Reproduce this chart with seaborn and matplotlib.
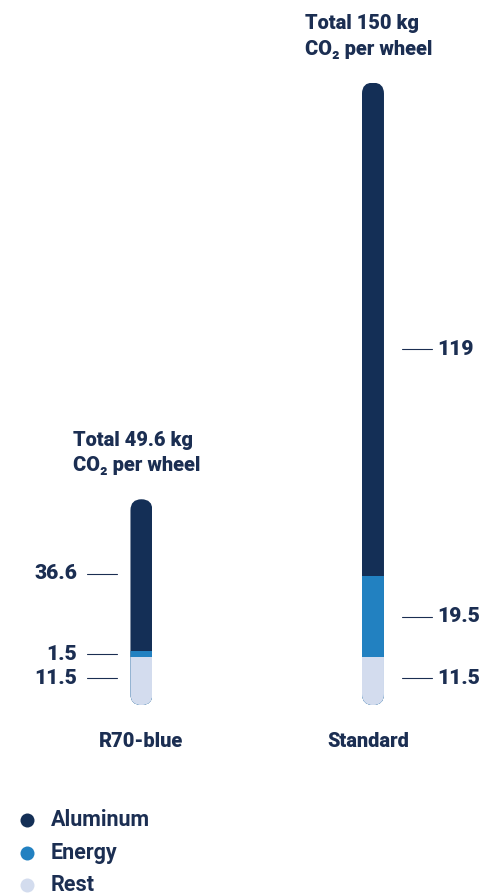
import matplotlib
matplotlib.use("Agg")
import matplotlib.pyplot as plt
from matplotlib.patches import FancyBboxPatch, BoxStyle
from matplotlib.transforms import IdentityTransform, blended_transform_factory
import pandas as pd
import seaborn as sns

# --- data -------------------------------------------------------------
products = ["R70-blue", "Standard"]
segments = ["Aluminum", "Energy", "Rest"]
rest = [11.5, 11.5]
energy = [1.5, 19.5]
aluminum = [36.6, 119]
total_labels = ["49.6", "150"]

# --- style ------------------------------------------------------------
colors = {"Aluminum": "#142f56", "Energy": "#2281c1", "Rest": "#d3dcee"}
text_color = "#1b2e52"

sns.set_theme(style="white")
plt.rcParams["font.family"] = ["Roboto", "DejaVu Sans"]

W, H, DPI = 484, 896, 72
fig = plt.figure(figsize=(W / DPI, H / DPI), dpi=DPI)
fig.patch.set_facecolor("white")
ax = fig.add_axes([0, 0, 1, 1])

df = pd.DataFrame({"product": products, "rest": rest,
                   "energy": energy, "aluminum": aluminum})
df["low"] = df["rest"]
df["mid"] = df["rest"] + df["energy"]
df["top"] = df["mid"] + df["aluminum"]

# stacked bars drawn as overlapping cumulative bars
bar_w = 0.095
for col, seg in [("top", "Aluminum"), ("mid", "Energy"), ("low", "Rest")]:
    sns.barplot(data=df, x="product", y=col, color=colors[seg], width=bar_w,
                saturation=1, linewidth=0, errorbar=None, ax=ax)

ax.set_xlim(-0.611, 1.4795)
ax.set_ylim(-46.0, 169.9)
ax.axis("off")

# rounded ends: clip each bar's segments to a pill shape
for i, total in enumerate(df["top"]):
    (x0, y0) = ax.transData.transform((i - bar_w / 2, 0))
    (x1, y1) = ax.transData.transform((i + bar_w / 2, total))
    w, h = x1 - x0, y1 - y0
    pill = FancyBboxPatch((x0, y0), w, h,
                          boxstyle=BoxStyle.Round(pad=0, rounding_size=w / 2),
                          transform=IdentityTransform())
    for p in ax.patches:
        if abs(p.get_x() + p.get_width() / 2 - i) < 1e-6:
            p.set_clip_path(pill)

# value labels with leader lines (x in pixels from bar centre, y in data)
px_y = blended_transform_factory(IdentityTransform(), ax.transData)
label_frac = {"Rest": 0.565, "Energy": 0.5}
alu_frac = [0.51, 0.46]
cat_dx = [0, -5]
fs_num, fs_title, fs_cat, fs_leg = 21, 20, 20, 21.5
heavy = "black"
for i in range(len(products)):
    cx = ax.transData.transform((i, 0))[0]
    seg_vals = [("Rest", 0, rest[i]),
                ("Energy", rest[i], energy[i]),
                ("Aluminum", rest[i] + energy[i], aluminum[i])]
    for seg, base, val in seg_vals:
        frac = label_frac.get(seg, alu_frac[i])
        y = base + frac * val
        txt = f"{val:g}"
        if i == 0:
            ax.plot([cx - 54.5, cx - 24.5], [y, y], color=text_color,
                    lw=1.1, transform=px_y)
            ax.text(cx - 64.5, y, txt, ha="right", va="center",
                    fontsize=fs_num, fontweight=heavy, color=text_color,
                    transform=px_y)
        else:
            ax.plot([cx + 29, cx + 59], [y, y], color=text_color,
                    lw=1.1, transform=px_y)
            ax.text(cx + 64, y, txt, ha="left", va="center",
                    fontsize=fs_num, fontweight=heavy, color=text_color,
                    transform=px_y)

    # total title above the bar
    ax.annotate(f"Total {total_labels[i]} kg\nCO\u2082 per wheel",
                xy=(i, df["top"][i]), xytext=(-68, 28),
                textcoords="offset pixels", ha="left", va="baseline",
                fontsize=fs_title, fontweight=heavy, color=text_color,
                linespacing=1.45)

    # category name under the bar
    ax.annotate(products[i], xy=(i, 0), xytext=(cat_dx[i], -42),
                textcoords="offset pixels", ha="center", va="baseline",
                fontsize=fs_cat, fontweight=heavy, color=text_color)

# legend
for k, seg in enumerate(segments):
    ypx = H - (820 + 32.5 * k)
    ax.scatter([27], [ypx], s=196, color=colors[seg], linewidths=0,
               transform=IdentityTransform(), clip_on=False)
    ax.text(51, ypx, seg, ha="left", va="center", fontsize=fs_leg,
            fontweight="bold", color=text_color,
            transform=IdentityTransform())

fig.savefig("out.png", dpi=DPI, facecolor="white")
